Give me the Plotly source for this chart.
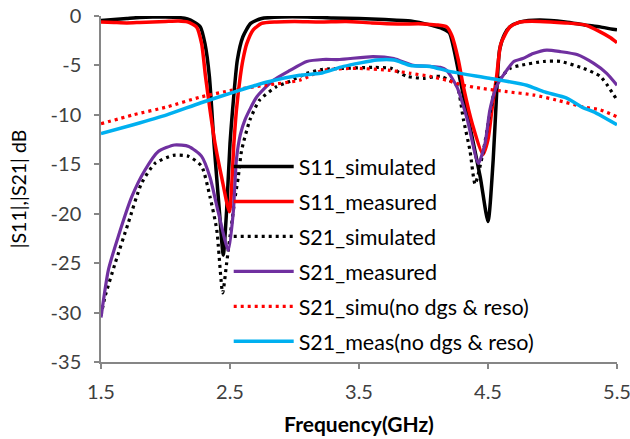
import plotly.graph_objects as go

# S11 simulated (black solid)
s11_sim_f = [1.5, 1.6, 1.7, 1.8, 1.9, 2.0, 2.1, 2.17, 2.22, 2.27, 2.306, 2.34, 2.376, 2.417, 2.448,
             2.474, 2.5, 2.52, 2.557, 2.6, 2.66, 2.745, 2.9, 3.1, 3.3, 3.5, 3.7, 3.9, 4.05, 4.15, 4.2,
             4.28, 4.36, 4.44, 4.5, 4.54, 4.567, 4.59, 4.63, 4.67, 4.75, 4.9, 5.1, 5.25, 5.37, 5.45, 5.5]
s11_sim_db = [-0.45, -0.35, -0.25, -0.15, -0.1, -0.1, -0.15, -0.3, -0.6, -1.1, -2.8, -6.1, -12.9, -19.6, -24.2,
              -19.6, -12.9, -9.5, -4.45, -2.1, -0.75, -0.25, -0.1, -0.1, -0.2, -0.25, -0.35, -0.5, -0.9, -1.3, -1.7,
              -6.2, -11.2, -16.3, -20.8, -14.6, -7.8, -3.4, -1.8, -1.1, -0.6, -0.4, -0.6, -0.9, -1.1, -1.3, -1.4]

# S11 measured (red solid)
s11_meas_f = [1.5, 1.6, 1.7, 1.8, 1.9, 2.0, 2.1, 2.17, 2.24, 2.28, 2.31, 2.345, 2.384, 2.435, 2.495,
              2.53, 2.55, 2.58, 2.6, 2.63, 2.68, 2.745, 2.86, 3.0, 3.2, 3.4, 3.6, 3.8, 4.0, 4.1, 4.18,
              4.22, 4.27, 4.31, 4.38, 4.46, 4.5, 4.53, 4.567, 4.6, 4.67, 4.75, 4.9, 5.1, 5.25, 5.37, 5.45, 5.5]
s11_meas_db = [-0.6, -0.65, -0.7, -0.65, -0.6, -0.55, -0.5, -0.6, -1.1, -2.8, -6.1, -9.5, -12.9, -16.3, -19.8,
               -12.9, -9.5, -6.1, -4.45, -2.8, -1.4, -0.75, -0.6, -0.55, -0.6, -0.55, -0.7, -0.8, -0.8, -0.9, -1.1,
               -2.0, -4.45, -7.2, -11.0, -14.0, -12.5, -9.5, -6.1, -2.8, -1.1, -0.6, -0.55, -0.7, -0.9, -1.6, -2.2, -2.7]

# S21 simulated (black dotted)
s21_sim_f = [1.5, 1.531, 1.61, 1.71, 1.815, 1.92, 2.06, 2.18, 2.28, 2.345, 2.397, 2.443, 2.474, 2.51, 2.54,
             2.564, 2.59, 2.655, 2.73, 2.86, 2.965, 3.095, 3.22, 3.38, 3.61, 3.75, 3.87, 4.0, 4.13, 4.2, 4.26,
             4.31, 4.36, 4.4, 4.46, 4.52, 4.567, 4.67, 4.75, 4.93, 5.06, 5.24, 5.37, 5.5]
s21_sim_db = [-30.3, -28.4, -25.0, -21.0, -16.9, -14.9, -14.1, -14.2, -15.2, -18.3, -21.6, -28.0, -25.0, -21.3, -18.3,
              -16.3, -13.6, -10.5, -8.5, -7.15, -6.6, -5.8, -5.4, -5.3, -5.2, -5.3, -6.1, -6.3, -6.1, -6.5, -7.1,
              -10.5, -13.6, -17.0, -13.9, -9.5, -6.8, -5.3, -5.0, -4.6, -4.6, -5.3, -6.1, -8.5]

# S21 measured (purple solid)
s21_meas_f = [1.5, 1.557, 1.634, 1.738, 1.84, 1.944, 2.07, 2.18, 2.28, 2.345, 2.41, 2.487, 2.525, 2.55, 2.58,
              2.616, 2.707, 2.836, 2.965, 3.095, 3.22, 3.35, 3.61, 3.77, 3.92, 4.05, 4.13, 4.18, 4.26, 4.34,
              4.425, 4.477, 4.515, 4.567, 4.645, 4.7, 4.77, 4.85, 4.955, 5.06, 5.19, 5.32, 5.42, 5.5]
s21_meas_db = [-30.5, -25.7, -22.3, -18.3, -15.6, -13.7, -13.05, -13.2, -14.2, -16.3, -19.9, -23.7, -19.9, -14.5, -12.0,
               -10.5, -8.2, -6.5, -5.5, -4.6, -4.4, -4.4, -4.1, -4.3, -5.0, -5.1, -5.2, -5.5, -7.2, -10.5,
               -14.9, -12.9, -9.5, -7.1, -5.5, -4.6, -4.3, -3.8, -3.45, -3.6, -3.9, -4.8, -5.8, -7.0]

# S21 simulated, no DGS & resonator (red dotted)
s21_simu_ref_f = [1.5, 1.75, 2.01, 2.27, 2.52, 2.78, 3.04, 3.22, 3.48, 3.74, 3.9, 4.05, 4.18, 4.31, 4.44,
                  4.645, 4.86, 5.03, 5.24, 5.37, 5.5]
s21_simu_ref_db = [-10.9, -10.0, -9.2, -8.2, -7.5, -7.0, -6.5, -5.5, -5.3, -5.5, -5.8, -6.1, -6.5, -7.0, -7.3,
                   -7.65, -8.0, -8.5, -9.2, -9.5, -10.2]

# S21 measured, no DGS & resonator (cyan solid)
s21_meas_ref_f = [1.5, 1.75, 2.01, 2.27, 2.53, 2.78, 3.04, 3.2, 3.38, 3.64, 3.77, 3.9, 4.05, 4.2, 4.51,
                  4.8, 4.93, 5.11, 5.24, 5.32, 5.5]
s21_meas_ref_db = [-11.9, -11.0, -10.0, -8.8, -7.7, -6.7, -6.0, -5.8, -5.1, -4.45, -4.45, -5.0, -5.1, -5.6, -6.3,
                   -7.0, -7.65, -8.3, -9.3, -9.7, -11.0]

x_ticks = [1.5, 2.5, 3.5, 4.5, 5.5]
y_ticks = [0, -5, -10, -15, -20, -25, -30, -35]

series = [
    ("S11_simulated", s11_sim_f, s11_sim_db, "#000000", 3.5, "solid"),
    ("S11_measured", s11_meas_f, s11_meas_db, "#FF0000", 3.5, "solid"),
    ("S21_simulated", s21_sim_f, s21_sim_db, "#000000", 3.2, "3px,4px"),
    ("S21_measured", s21_meas_f, s21_meas_db, "#7030A0", 3.2, "solid"),
    ("S21_simu(no dgs & reso)", s21_simu_ref_f, s21_simu_ref_db, "#FF0000", 3.2, "3px,4px"),
    ("S21_meas(no dgs & reso)", s21_meas_ref_f, s21_meas_ref_db, "#00B0F0", 3.5, "solid"),
]

fig = go.Figure()
for name, xs, ys, color, w, dash in series:
    fig.add_trace(go.Scatter(
        x=xs, y=ys, mode="lines", name=name, legendgroup=name,
        line=dict(color=color, width=w, dash=dash, shape="spline", smoothing=0.6),
    ))

FONT = "Lato, 'Liberation Sans', Arial, sans-serif"
axis_color = "#868686"

fig.update_layout(
    width=630, height=439,
    margin=dict(l=101, r=13, t=16, b=77, autoexpand=False),
    paper_bgcolor="white", plot_bgcolor="white",
    font=dict(family=FONT, size=18, color="#000000"),
    showlegend=True,
    legend=dict(
        x=0.2475, y=0.624, xanchor="left", yanchor="top",
        bgcolor="rgba(0,0,0,0)", borderwidth=0,
        font=dict(family=FONT, size=21.5, color="#000000"),
        traceorder="grouped", tracegroupgap=4,
        itemwidth=60,
    ),
    xaxis=dict(
        range=[1.5, 5.5], tickvals=x_ticks, ticktext=[str(v) for v in x_ticks],
        showgrid=False, zeroline=False, showline=True, linecolor=axis_color, linewidth=1.5,
        ticks="outside", ticklen=5, tickcolor=axis_color, tickwidth=1.5,
        ticklabelstandoff=6, ticklabeloverflow="allow",
        tickfont=dict(family=FONT, size=20, color="#404040"),
        title=dict(text="<b>Frequency(GHz)</b>", font=dict(family=FONT, size=21, color="#000000"), standoff=16),
    ),
    yaxis=dict(
        range=[-35, 0], tickvals=y_ticks, ticktext=[str(v) for v in y_ticks],
        showgrid=False, zeroline=False, showline=True, linecolor=axis_color, linewidth=1.5,
        ticks="outside", ticklen=5, tickcolor=axis_color, tickwidth=1.5,
        ticklabelstandoff=9, ticklabeloverflow="allow",
        tickfont=dict(family=FONT, size=20, color="#404040"),
        title=dict(text="|S11|,|S21| dB", font=dict(family=FONT, size=19.5, color="#000000"), standoff=19),
    ),
)

# remove the page's default 8px body margin so the 630x439 figure fills the window
fig.write_html("out.html", config={"displayModeBar": False},
               post_script="document.body.style.margin='0';")
